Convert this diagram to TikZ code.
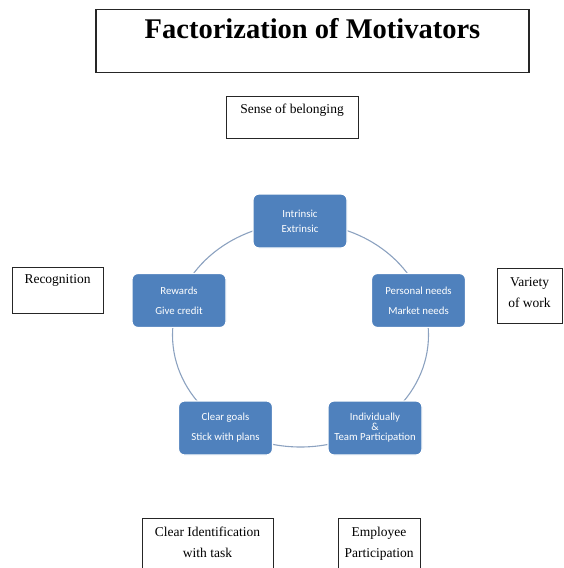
\documentclass[tikz,border=0pt]{standalone}
\usepackage{fontspec}
\setmainfont{Liberation Serif}
\newfontfamily\smartfont{Carlito}
\usetikzlibrary{shapes.geometric}
\definecolor{smartblue}{RGB}{79,129,189}
\definecolor{ringblue}{RGB}{140,162,192}
\tikzstyle{note} = [draw=black!85, rectangle, line width=0.9pt,
    inner xsep=2pt, inner ysep=4pt, align=center,
    font=\fontsize{13.5}{21}\selectfont]
\tikzstyle{heading} = [note, line width=1.1pt, inner ysep=8pt,
    font=\bfseries\fontsize{28.5}{30}\selectfont]
\tikzstyle{cyc} = [draw=white, line width=1.2pt, fill=smartblue, rectangle,
    rounded corners=6pt, minimum width=94pt, minimum height=54pt,
    text=white, align=center, font=\smartfont\fontsize{10.8}{20}\selectfont]
\tikzstyle{ring} = [draw=ringblue, line width=1.1pt, ellipse,
    minimum width=256pt, minimum height=224pt]

\begin{document}
\begin{tikzpicture}[x=1pt, y=-1pt]
    \useasboundingbox (0,0) rectangle (563,568);
    \clip (0,0) rectangle (563,568);
    \node [heading, minimum width=433pt, minimum height=63pt,
            text height=21pt, text depth=26pt] (title) at (312.5,41) {Factorization of Motivators};
    \node [note, minimum width=132pt, minimum height=42pt,
            text height=13pt, text depth=21pt] (belonging) at (292,117) {Sense of belonging};
    \node [note, minimum width=91pt, minimum height=46pt,
            text height=12pt, text depth=26pt] (recognition) at (57.5,290) {Recognition};
    \node [note, minimum width=65pt, minimum height=55pt,
            text height=35pt, text depth=12pt] (variety) at (529.5,295.5) {Variety\\of work};
    \node [note, minimum width=131pt, minimum height=60pt,
            text height=35pt, text depth=17pt] (identification) at (207.5,548) {Clear Identification\\with task};
    \node [note, minimum width=82pt, minimum height=60pt,
            text height=35pt, text depth=17pt] (employee) at (379,548) {Employee\\Participation};
    % cycle
    \node [ring] (cycle) at (300.5,335) {};
    \node [cyc, font=\smartfont\fontsize{10.8}{15}\selectfont] (intrinsic) at (300,221) {Intrinsic\\Extrinsic};
    \node [cyc] (rewards) at (179,300.5) {Rewards\\Give credit};
    \node [cyc, right of=rewards, node distance=239.5pt] (personal) {Personal needs\\Market needs};
    \node [cyc] (goals) at (225.5,428) {Clear goals\\Stick with plans};
    \node [cyc, right of=goals, node distance=149.5pt,
            font=\smartfont\fontsize{10.8}{10}\selectfont] (team) {Individually\\\&\\Team Participation};
\end{tikzpicture}
\end{document}
